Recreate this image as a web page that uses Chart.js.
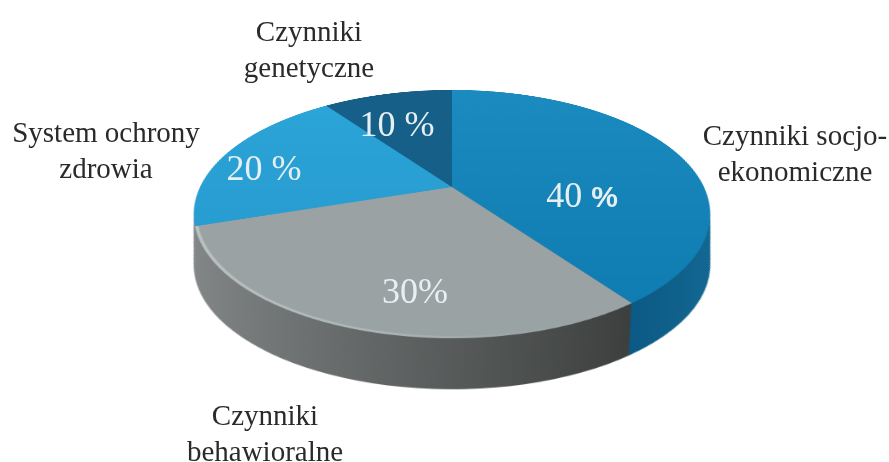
<!DOCTYPE html>
<html lang="pl">
<head>
<meta charset="UTF-8" />
<title>Czynniki</title>
<script src="https://cdn.jsdelivr.net/npm/chart.js"></script>
<style>
  html, body { margin: 0; background: #fff; width: 889px; height: 462px; overflow: hidden; }
  #tilt { position: absolute; left: 52px; top: -213px; width: 800px; height: 800px;
          transform: perspective(1021px) rotateX(62deg); filter: blur(0.7px); }
  #labels { filter: blur(0.35px); }
  .label { position: absolute; transform: translateX(-50%); text-align: center; white-space: nowrap;
           font-family: "Liberation Serif", serif; font-size: 29px; line-height: 36px; color: #2a2a2a; }
  .pct { position: absolute; transform: translateX(-50%); white-space: nowrap;
         font-family: "Liberation Serif", serif; font-size: 36px; line-height: 40px; color: #e6eff2; }
  .pct b { font-family: "Liberation Sans", sans-serif; font-size: 30px; }
</style>
</head>
<body>
<div id="tilt"><canvas id="pie" width="800" height="800" style="width:800px;height:800px"></canvas></div>
<div id="labels"></div>
<script>
// clockwise from 12 o'clock
const categories = ["Czynniki socjo-\nekonomiczne", "Czynniki\nbehawioralne", "System ochrony\nzdrowia", "Czynniki\ngenetyczne"];
const shares = [40, 30, 20, 10];
const pctLabels = ["40 <b>%</b>", "30%", "20 %", "10 %"];

const topColors = [["#1c8cc0", "#0f7cb1"], ["#9aa1a2", "#9aa3a4"], ["#2ca6da", "#2698cc"], ["#165f88", "#14608a"]];
// left and right end of each slice's side wall
const wallColors = [
  ["#0a5682", "#146a94"],
  ["#858989", "#3c3f3e"],
  ["#858989", "#858989"],
  ["#14608a", "#14608a"],
];
const labelPos = [[795, 117], [265, 397], [106, 114], [309, 13]];
const pctPos = [[582, 175], [415, 271], [264, 148], [397, 104]];

// projection of the tilted canvas, same numbers as the css transform
const RADIUS = 252, PERSP = 1021, TILT = 62 * Math.PI / 180, WALL = 51;
const cosT = Math.cos(TILT), v = Math.sin(TILT) / PERSP;
const halfWidth = RADIUS / Math.sqrt(1 - Math.pow(v * RADIUS, 2));
const topY = -RADIUS * cosT / (1 + v * RADIUS), botY = RADIUS * cosT / (1 - v * RADIUS);
const toPlane = (Y) => Y / (cosT + Y * v);

// circle in the plane that shows up as the top ellipse moved h px down the screen
function layerFor(h) {
  const a = toPlane(topY + h), b = toPlane(botY + h);
  const t = (a + b) / 2, k = (b - a) / 2 / RADIUS;
  const u = v * k * RADIUS / (1 - v * t);
  const m = halfWidth * (1 - v * t) * Math.sqrt(1 - u * u) / RADIUS;
  return { t, k, m };
}

const ctx = document.getElementById("pie").getContext("2d");
const vGrad = (c) => {
  const g = ctx.createLinearGradient(0, 150, 0, 650);
  g.addColorStop(0, c[0]); g.addColorStop(1, c[1]);
  return g;
};
// used inside the translated wall layers, so measured from the pie centre
const wallGrad = (c, i) => {
  const g = i === 0 ? ctx.createLinearGradient(120, 0, 250, 0) : ctx.createLinearGradient(-250, 0, 150, 0);
  g.addColorStop(0, c[0]); g.addColorStop(1, c[1]);
  return g;
};

const wallPlugin = {
  id: "wall",
  beforeDatasetsDraw(chart) {
    const c = chart.ctx;
    const arcs = chart.getDatasetMeta(0).data;
    const fills = wallColors.map(wallGrad);
    for (let h = WALL; h >= 1; h--) {
      const l = layerFor(h);
      arcs.forEach((arc, i) => {
        c.save();
        c.translate(arc.x, arc.y + l.t);
        c.scale(l.m, l.k);
        c.beginPath();
        c.moveTo(0, 0);
        c.arc(0, 0, arc.outerRadius, arc.startAngle, arc.endAngle);
        c.closePath();
        c.fillStyle = fills[i];
        c.fill();
        c.restore();
      });
    }
  },
  afterDatasetsDraw(chart) {
    // light rim on the front edge of the grey slice
    const c = chart.ctx;
    const arc = chart.getDatasetMeta(0).data[1];
    const g = c.createLinearGradient(150, 0, 500, 0);
    g.addColorStop(0, "rgba(200,207,207,0.75)");
    g.addColorStop(0.6, "rgba(185,193,193,0.55)");
    g.addColorStop(1, "rgba(160,168,168,0)");
    c.beginPath();
    c.arc(arc.x, arc.y, arc.outerRadius - 1.5, arc.startAngle, arc.endAngle);
    c.strokeStyle = g;
    c.lineWidth = 3;
    c.stroke();
  },
};

new Chart(ctx, {
  type: "pie",
  data: {
    labels: categories,
    datasets: [{ data: shares, backgroundColor: topColors.map(vGrad), borderWidth: 0 }],
  },
  options: {
    responsive: false,
    animation: false,
    devicePixelRatio: 2,
    layout: { padding: 400 - RADIUS },
    plugins: { legend: { display: false }, tooltip: { enabled: false } },
  },
  plugins: [wallPlugin],
});

const box = document.getElementById("labels");
categories.forEach((name, i) => {
  const d = document.createElement("div");
  d.className = "label";
  d.style.left = labelPos[i][0] + "px";
  d.style.top = labelPos[i][1] + "px";
  d.innerHTML = name.replace("\n", "<br>");
  box.appendChild(d);
  const p = document.createElement("div");
  p.className = "pct";
  p.style.left = pctPos[i][0] + "px";
  p.style.top = pctPos[i][1] + "px";
  p.innerHTML = pctLabels[i];
  box.appendChild(p);
});
</script>
</body>
</html>
